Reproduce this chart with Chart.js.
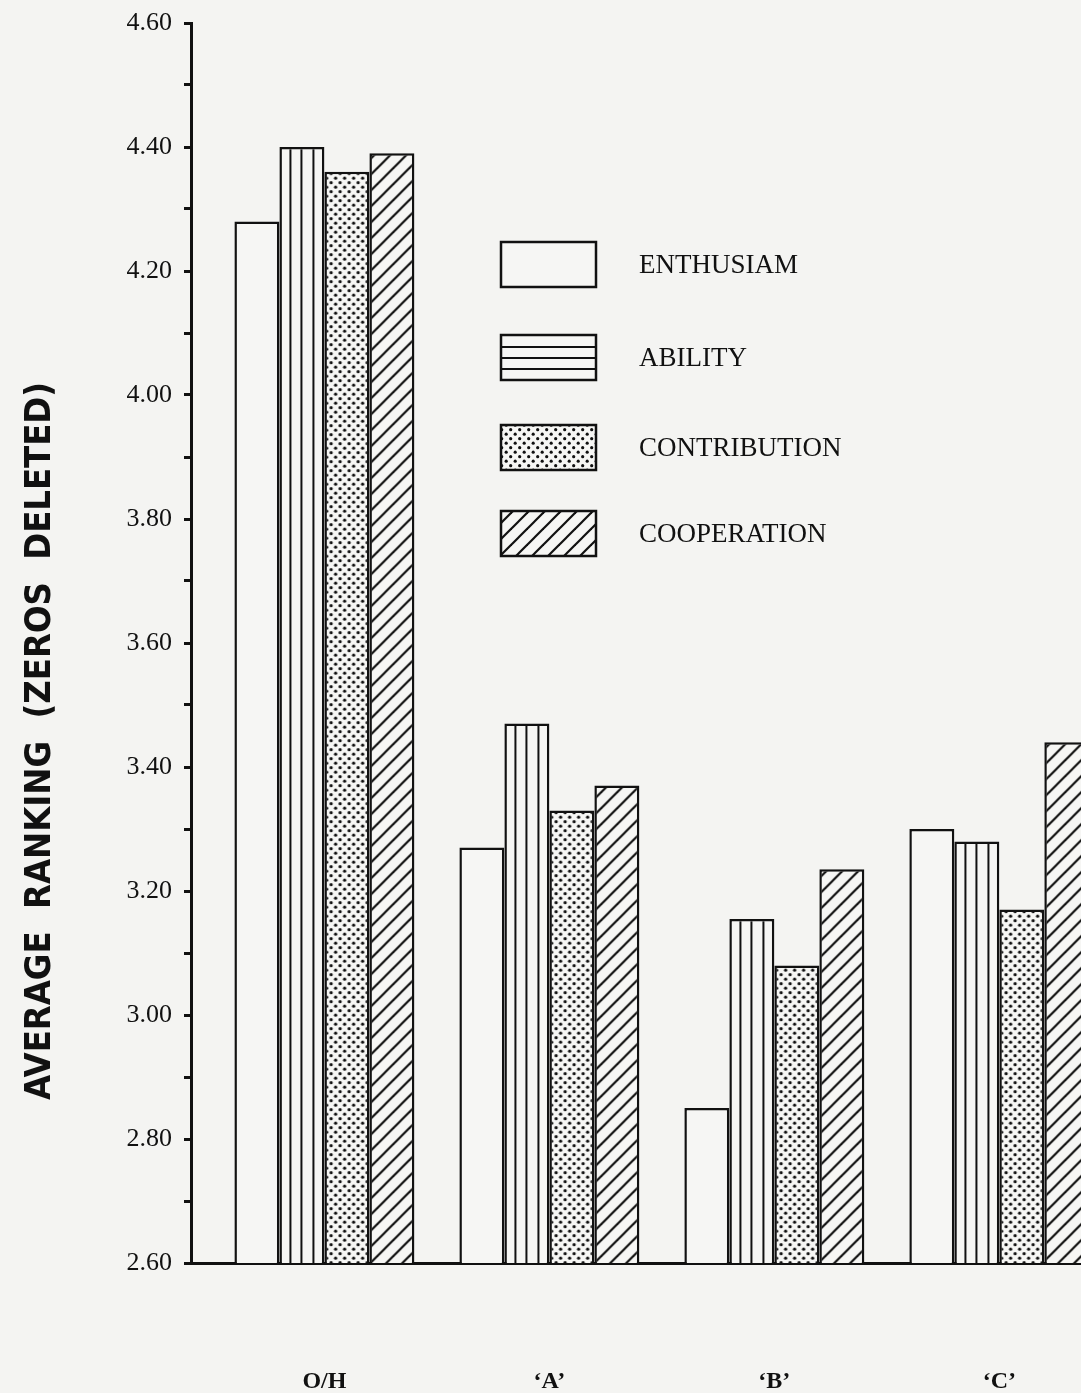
<!DOCTYPE html>
<html>
<head>
<meta charset="utf-8">
<script src="https://cdn.jsdelivr.net/npm/chart.js@4.4.1/dist/chart.umd.min.js"></script>
<style>
  html, body { margin: 0; padding: 0; background: #f4f4f2; overflow: hidden; }
</style>
</head>
<body>
<canvas id="chart" width="1081" height="1393"></canvas>
<script>
// data
const groups = ['O/H', '\u2018A\u2019', '\u2018B\u2019', '\u2018C\u2019'];
const seriesNames = ['ENTHUSIAM', 'ABILITY', 'CONTRIBUTION', 'COOPERATION'];
const enthusiasm = [4.28, 3.27, 2.85, 3.30];
const ability = [4.40, 3.47, 3.155, 3.28];
const contribution = [4.36, 3.33, 3.08, 3.17];
const cooperation = [4.39, 3.37, 3.235, 3.44];
const yMin = 2.6, yMax = 4.6, yStep = 0.1, yLabelStep = 0.2;
const yTitle = 'AVERAGE  RANKING  (ZEROS  DELETED)';

const ink = '#111';
const paper = '#f6f6f4';

// hatch tiles
function makeTile(w, h, draw) {
    const c = document.createElement('canvas');
    c.width = w;
    c.height = h;
    const g = c.getContext('2d');
    g.fillStyle = paper;
    g.fillRect(0, 0, w, h);
    g.fillStyle = ink;
    g.strokeStyle = ink;
    draw(g, w, h);
    return c;
}
const vLines = makeTile(45, 8, (g) => {
    [10, 21, 33].forEach(x => g.fillRect(x, 0, 2, 8));
});
const dots = makeTile(9, 9, (g) => {
    [[2.2, 2.2], [6.7, 6.7]].forEach(([x, y]) => {
        g.beginPath();
        g.arc(x, y, 1.6, 0, Math.PI * 2);
        g.fill();
    });
});
const diag = makeTile(16, 16, (g) => {
    g.lineWidth = 2.2;
    [[-4, 4, 4, -4], [0, 16, 16, 0], [12, 20, 20, 12]].forEach(([a, b, c, d]) => {
        g.beginPath();
        g.moveTo(a, b);
        g.lineTo(c, d);
        g.stroke();
    });
});

function patternFill(tile) {
    return (c) => {
        const chart = c.chart;
        if (!tile) return paper;
        const p = chart.ctx.createPattern(tile, 'repeat');
        const x = chart.scales && chart.scales.x;
        if (x && chart.chartArea) {
            const half = (x.getPixelForValue(1) - x.getPixelForValue(0)) * 0.4;
            p.setTransform(new DOMMatrix().translate(x.getPixelForValue(0) - half, chart.chartArea.top));
        }
        return p;
    };
}

const fills = [null, vLines, dots, diag];
const series = [enthusiasm, ability, contribution, cooperation];

const datasets = series.map((vals, i) => ({
    label: seriesNames[i],
    data: vals.map((v, k) => ({ x: k, y: v })),
    backgroundColor: patternFill(fills[i]),
    borderColor: ink,
    borderWidth: 2.5,
    categoryPercentage: 0.8,
    barPercentage: 1.0
}));

// legend drawn inside the plot, like the original
const legendPlugin = {
    id: 'boxLegend',
    afterDraw(chart) {
        const ctx = chart.ctx;
        const bx = 501, bw = 95, bh = 45;
        const tops = [242, 335, 425, 511];
        ctx.save();
        tops.forEach((top, i) => {
            ctx.fillStyle = paper;
            if (i === 2) ctx.fillStyle = ctx.createPattern(dots, 'repeat');
            if (i === 3) ctx.fillStyle = ctx.createPattern(diag, 'repeat');
            ctx.fillRect(bx, top, bw, bh);
            ctx.fillStyle = ink;
            if (i === 1) {
                [11, 22, 33].forEach(y => ctx.fillRect(bx, top + y, bw, 2));
            }
            ctx.strokeStyle = ink;
            ctx.lineWidth = 2.5;
            ctx.strokeRect(bx, top, bw, bh);
            ctx.font = "27px 'Liberation Serif', serif";
            ctx.textAlign = 'left';
            ctx.textBaseline = 'middle';
            ctx.fillText(seriesNames[i], 639, top + bh / 2 + 1);
        });
        ctx.restore();
    }
};

// rotated axis title
const titlePlugin = {
    id: 'sideTitle',
    afterDraw(chart) {
        const ctx = chart.ctx;
        ctx.save();
        ctx.translate(41, 741);
        ctx.rotate(-Math.PI / 2);
        ctx.font = "bold 36px 'DejaVu Sans Condensed', 'DejaVu Sans', sans-serif";
        ctx.fillStyle = ink;
        ctx.textAlign = 'center';
        ctx.textBaseline = 'middle';
        ctx.fillText(yTitle, 0, 0);
        ctx.restore();
    }
};

const chart = new Chart(document.getElementById('chart'), {
    type: 'bar',
    data: { datasets: datasets },
    options: {
        responsive: false,
        animation: false,
        layout: { padding: { top: 23, left: 0, right: 0, bottom: 0 } },
        plugins: {
            legend: { display: false },
            tooltip: { enabled: false }
        },
        scales: {
            x: {
                type: 'linear',
                min: -0.593,
                max: 3.363,
                bounds: 'data',
                offset: false,
                z: 1,
                grid: { display: false, drawTicks: false, offset: false },
                border: { display: true, color: ink, width: 3 },
                afterBuildTicks: (s) => { s.ticks = groups.map((g, i) => ({ value: i })); },
                ticks: {
                    autoSkip: false,
                    maxRotation: 0,
                    padding: 104,
                    color: ink,
                    font: { family: 'Liberation Serif', size: 24, weight: 'bold' },
                    callback: (v) => groups[v] !== undefined ? groups[v] : ''
                },
                afterFit: (s) => {
                    s.height = 130;
                    s.paddingLeft = 0;
                    s.paddingRight = 0;
                }
            },
            y: {
                min: yMin,
                max: yMax,
                border: { color: ink, width: 3 },
                grid: { drawOnChartArea: false, drawTicks: true, tickLength: 7, tickWidth: 3, tickColor: ink },
                ticks: {
                    stepSize: yStep,
                    autoSkip: false,
                    padding: 12,
                    color: ink,
                    font: { family: 'Liberation Serif', size: 26 },
                    callback: (v) => {
                        const n = Math.round((v - yMin) / yStep);
                        const every = Math.round(yLabelStep / yStep);
                        return n % every === 0 ? v.toFixed(2) : '';
                    }
                },
                afterFit: (s) => {
                    s.width = 191;
                    s.paddingTop = 0;
                    s.paddingBottom = 0;
                }
            }
        }
    },
    plugins: [legendPlugin, titlePlugin]
});
</script>
</body>
</html>
